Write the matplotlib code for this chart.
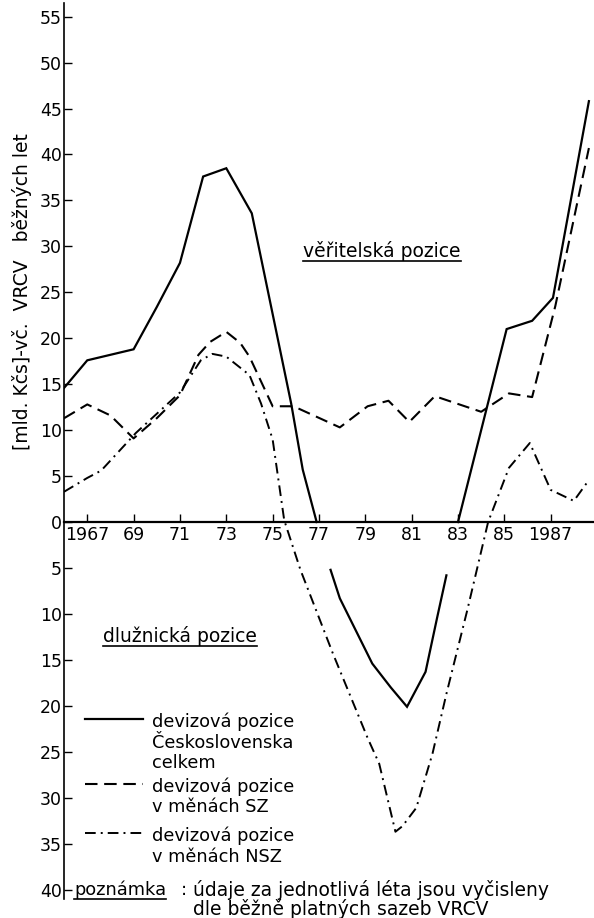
import numpy as np
import matplotlib
matplotlib.use("Agg")
import matplotlib.pyplot as plt
from matplotlib.lines import Line2D

nan = np.nan

# devizová pozice Československa celkem (záporné = dlužnická pozice)
celkem_x = [1966, 1967, 1969, 1970, 1971, 1972, 1973, 1974.1, 1974.7, 1975.8, 1976.3, 1976.9,
            nan, 1977.5, 1977.9, 1979.3, 1980.1, 1980.8, 1981.6, 1982.1, 1982.5,
            nan, 1983.0, 1985.1, 1986.2, 1987.1, 1988.65]
celkem_y = [14.6, 17.6, 18.8, 23.4, 28.2, 37.6, 38.5, 33.6, 26.3, 12.9, 5.7, 0.0,
            nan, -5.2, -8.3, -15.4, -18.0, -20.1, -16.3, -10.4, -5.8,
            nan, 0.0, 21.0, 21.9, 24.4, 45.8]

# devizová pozice v měnách SZ
sz_x = [1966, 1967, 1968, 1969, 1970, 1971, 1971.8, 1972.3, 1973, 1973.6, 1974.0, 1975.0, 1975.9,
        1977.9, 1979.1, 1980.0, 1980.9, 1982.0, 1984.0, 1985.2, 1986.2, 1987.2, 1988.65]
sz_y = [11.3, 12.8, 11.6, 9.1, 11.3, 13.8, 18.2, 19.6, 20.7, 19.5, 18.0, 12.6, 12.6,
        10.3, 12.6, 13.2, 10.9, 13.7, 12.0, 14.0, 13.6, 23.5, 40.7]

# devizová pozice v měnách NSZ
nsz_x = [1966, 1967, 1967.6, 1969.1, 1971, 1971.9, 1972.4, 1973, 1974, 1974.5, 1975, 1975.5,
         1976.2, 1977.6, 1979.1, 1979.6, 1980.3, 1980.6, 1981.2, 1981.9, 1982.5, 1983.4,
         1984.3, 1985.2, 1986.1, 1987.0, 1988.0, 1988.6]
nsz_y = [3.3, 4.8, 5.6, 9.7, 14.1, 17.6, 18.3, 18.0, 16.0, 12.9, 9.0, 0.2,
         -5.2, -14.3, -23.5, -26.3, -33.7, -33.1, -31.1, -25.2, -18.7, -9.6,
         0.0, 5.9, 8.6, 3.5, 2.3, 4.4]

x_ticks = [1967, 1969, 1971, 1973, 1975, 1977, 1979, 1981, 1983, 1985, 1987]
x_labels = ["1967", "69", "71", "73", "75", "77", "79", "81", "83", "85", "1987"]
y_ticks = list(range(-40, 56, 5))

W, H = 594, 918
fig = plt.figure(figsize=(W / 100, H / 100), dpi=100)
plt.rcParams['font.family'] = ['DejaVu Sans']
ax = fig.add_axes([64.1 / W, 0.0209, (W - 64.1) / W, 0.976])

ax.plot(celkem_x, celkem_y, color="black", lw=1.6, solid_joinstyle="miter")
ax.plot(sz_x, sz_y, color="black", lw=1.5, dashes=(6, 3.2))
ax.plot(nsz_x, nsz_y, color="black", lw=1.4, dashes=(5.5, 2.6, 1, 2.6))

ax.set_xlim(1966, 1966 + (W - 64.1) / 23.17)
ax.set_ylim(-41, 56.5)

for s in ["top", "right"]:
    ax.spines[s].set_visible(False)
ax.spines["bottom"].set_position(("data", 0))
ax.spines["left"].set_linewidth(1.2)
ax.spines["bottom"].set_linewidth(1.6)

ax.set_xticks(x_ticks)
ax.set_xticklabels(x_labels)
ax.set_yticks(y_ticks)
ax.set_yticklabels([str(abs(v)) for v in y_ticks])
ax.tick_params(axis="x", direction="in", length=6, width=1, labelsize=12.5, pad=3)
ax.tick_params(axis="y", direction="in", length=6, width=1, labelsize=12.5, pad=1.5)


def fx(px):
    return px / W


def fy(py):
    return 1 - py / H


fs = 12.8
ylab = "[mld. Kčs]-vč.  VRCV   běžných let"
fig.text(fx(22), fy(292), ylab, rotation=90, ha="center", va="center", fontsize=13.5)

t1 = fig.text(fx(303), fy(251), "věřitelská pozice", ha="left", va="center", fontsize=13.5)
t2 = fig.text(fx(103), fy(636), "dlužnická pozice", ha="left", va="center", fontsize=13.5)
t3 = fig.text(fx(74), fy(890), "poznámka", ha="left", va="center", fontsize=fs)
fig.text(fx(181), fy(890), ":", ha="left", va="center", fontsize=fs)
fig.text(fx(193), fy(890), "údaje za jednotlivá léta jsou vyčisleny", ha="left", va="center", fontsize=13.5)
fig.text(fx(193), fy(909), "dle běžně platných sazeb VRCV", ha="left", va="center", fontsize=13.5)

# legenda
leg = [
    (719, {"ls": "-", "lw": 1.6}, ["devizová pozice", "Československa", "celkem"]),
    (784, {"dashes": (6, 3.2), "lw": 1.5}, ["devizová pozice", "v měnách SZ"]),
    (833, {"dashes": (5.5, 2.6, 1, 2.6), "lw": 1.4}, ["devizová pozice", "v měnách NSZ"]),
]
for ly, style, lines in leg:
    fig.add_artist(Line2D([fx(85), fx(143)], [fy(ly), fy(ly)], color="black", **style))
    for i, s in enumerate(lines):
        fig.text(fx(152), fy(ly + 3 + i * 20.5), s, ha="left", va="center", fontsize=fs)

fig.canvas.draw()
r = fig.canvas.get_renderer()
for t in (t1, t2, t3):
    bb = t.get_window_extent(r)
    y0 = bb.y0 / H
    fig.add_artist(Line2D([bb.x0 / W, bb.x1 / W], [y0, y0], color="black", lw=1.2))

fig.savefig("out.png", dpi=100, facecolor="white")
